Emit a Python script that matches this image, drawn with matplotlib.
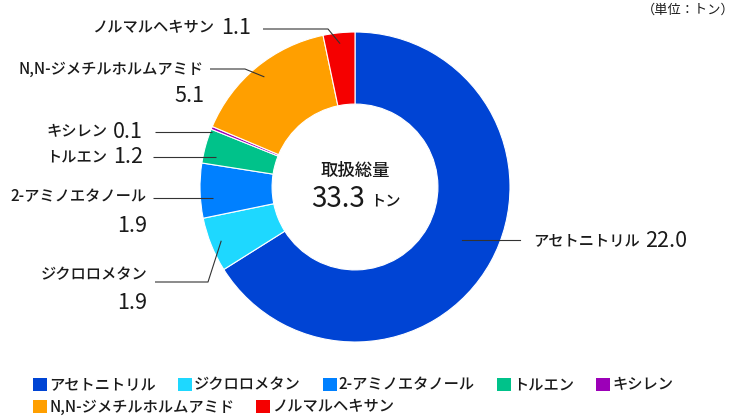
import matplotlib
matplotlib.use("Agg")
import matplotlib.pyplot as plt
from matplotlib.patches import Patch
import numpy as np

plt.rcParams['font.family'] = ['Noto Sans CJK JP', 'DejaVu Sans']
plt.rcParams['font.weight'] = 'medium'

# === データ ===
names = ["アセトニトリル", "ジクロロメタン", "2-アミノエタノール", "トルエン",
         "キシレン", "N,N-ジメチルホルムアミド", "ノルマルヘキサン"]
values = [22.0, 1.9, 1.9, 1.2, 0.1, 5.1, 1.1]
value_labels = ["22.0", "1.9", "1.9", "1.2", "0.1", "5.1", "1.1"]
colors = ["#0044d4", "#1ed8ff", "#0080ff", "#00c28a", "#9c00b8", "#ff9f00", "#f50000"]
total_label = "33.3"

W, H = 737, 418
CX, CY, R = 355, 187, 155


def px(x, y):
    # píxel -> coordenadas de datos (centro del donut = 0,0 ; radio = 1)
    return (x - CX) / R, (CY - y) / R


fig = plt.figure(figsize=(W / 100, H / 100), dpi=100)
ax = fig.add_axes([0, 0, 1, 1])

wedges, _ = ax.pie(values, colors=colors, startangle=90, counterclock=False,
                   radius=1.0, wedgeprops=dict(width=0.465, edgecolor="white", linewidth=0.8))
ax.set_xlim(-CX / R, (W - CX) / R)
ax.set_ylim((CY - H) / R, CY / R)
ax.set_aspect("auto")
ax.axis("off")

TXT = "#1a1a1a"
LINE = "#333333"
FS_NAME = 11
FS_VAL = 15.5
VAL_W = "normal"

label_cfg = [
    # hexano
    dict(i=6, name_x=214, val_x=221, y=28, split=None, lx0=263, knee=328, ly=29, r=0.93),
    # DMF
    dict(i=5, name_x=204, val_x=None, y=69, split=96, lx0=210, knee=245, ly=69, r=0.92),
    # xileno
    dict(i=4, name_x=107, val_x=113, y=132, split=None, lx0=155, knee=None, ly=132, r=0.99),
    # tolueno
    dict(i=3, name_x=107, val_x=113, y=157, split=None, lx0=153, knee=None, ly=157, r=0.92),
    # 2-aminoetanol
    dict(i=2, name_x=147, val_x=None, y=197, split=226, lx0=153, knee=None, ly=198, r=0.92),
    # diclorometano
    dict(i=1, name_x=147, val_x=None, y=275, split=303, lx0=155, knee=208, ly=282, r=0.93),
]

for c in label_cfg:
    w = wedges[c["i"]]
    ang = np.deg2rad((w.theta1 + w.theta2) / 2)
    ex, ey = c["r"] * np.cos(ang), c["r"] * np.sin(ang)
    if c["knee"] is None:
        ey = px(0, c["ly"])[1]
        ex = -np.sqrt(max(c["r"] ** 2 - ey ** 2, 0))
        xs = [px(c["lx0"], 0)[0], ex]
        ys = [ey, ey]
    else:
        xs = [px(c["lx0"], 0)[0], px(c["knee"], 0)[0], ex]
        ys = [px(0, c["ly"])[1]] * 2 + [ey]
    ax.plot(xs, ys, color=LINE, lw=0.8, solid_capstyle="butt")
    nx, ny = px(c["name_x"], c["y"])
    ax.text(nx, ny, names[c["i"]], ha="right", va="center", fontsize=FS_NAME, color=TXT)
    if c["split"] is None:
        vx, vy = px(c["val_x"], c["y"])
        ax.text(vx, vy, value_labels[c["i"]], ha="left", va="center",
                fontsize=FS_VAL, fontweight=VAL_W, color=TXT)
    else:
        vx, vy = px(c["name_x"], c["split"])
        ax.text(vx, vy, value_labels[c["i"]], ha="right", va="center",
                fontsize=FS_VAL, fontweight=VAL_W, color=TXT)

# アセトニトリル (derecha)
ly = px(0, 240)[1]
ax.plot([px(462, 0)[0], px(520, 0)[0]], [ly, ly], color=LINE, lw=0.8)
ax.text(*px(533, 241), names[0], ha="left", va="center", fontsize=FS_NAME, color=TXT)
ax.text(*px(645, 241), value_labels[0], ha="left", va="center",
        fontsize=FS_VAL, fontweight=VAL_W, color=TXT)

# centro
ax.text(*px(355, 171), "取扱総量", ha="center", va="center", fontsize=12.5, color=TXT)
ax.text(*px(365, 199), total_label, ha="right", va="center", fontsize=20,
        fontweight=VAL_W, color=TXT)
ax.text(*px(370, 201), "トン", ha="left", va="center", fontsize=11, color=TXT)

fig.text(735 / W, 1 - 10 / H, "（単位：トン）", ha="right", va="center",
         fontsize=9.5, fontweight="normal", color=TXT)

# leyenda en dos filas
handles = [Patch(facecolor=c, edgecolor="none") for c in colors]
rows = [[0, 1, 2, 3, 4], [5, 6]]
for row, yy in zip(rows, [385, 407]):
    leg = fig.legend([handles[k] for k in row], [names[k] for k in row],
                     loc="center left", bbox_to_anchor=(33 / W, 1 - yy / H),
                     ncol=len(row), frameon=False, fontsize=11,
                     handlelength=0.9, handleheight=0.9, handletextpad=0.15,
                     columnspacing=1.45, borderpad=0, borderaxespad=0)
    for t in leg.get_texts():
        t.set_color(TXT)

fig.savefig("out.png", dpi=100)
